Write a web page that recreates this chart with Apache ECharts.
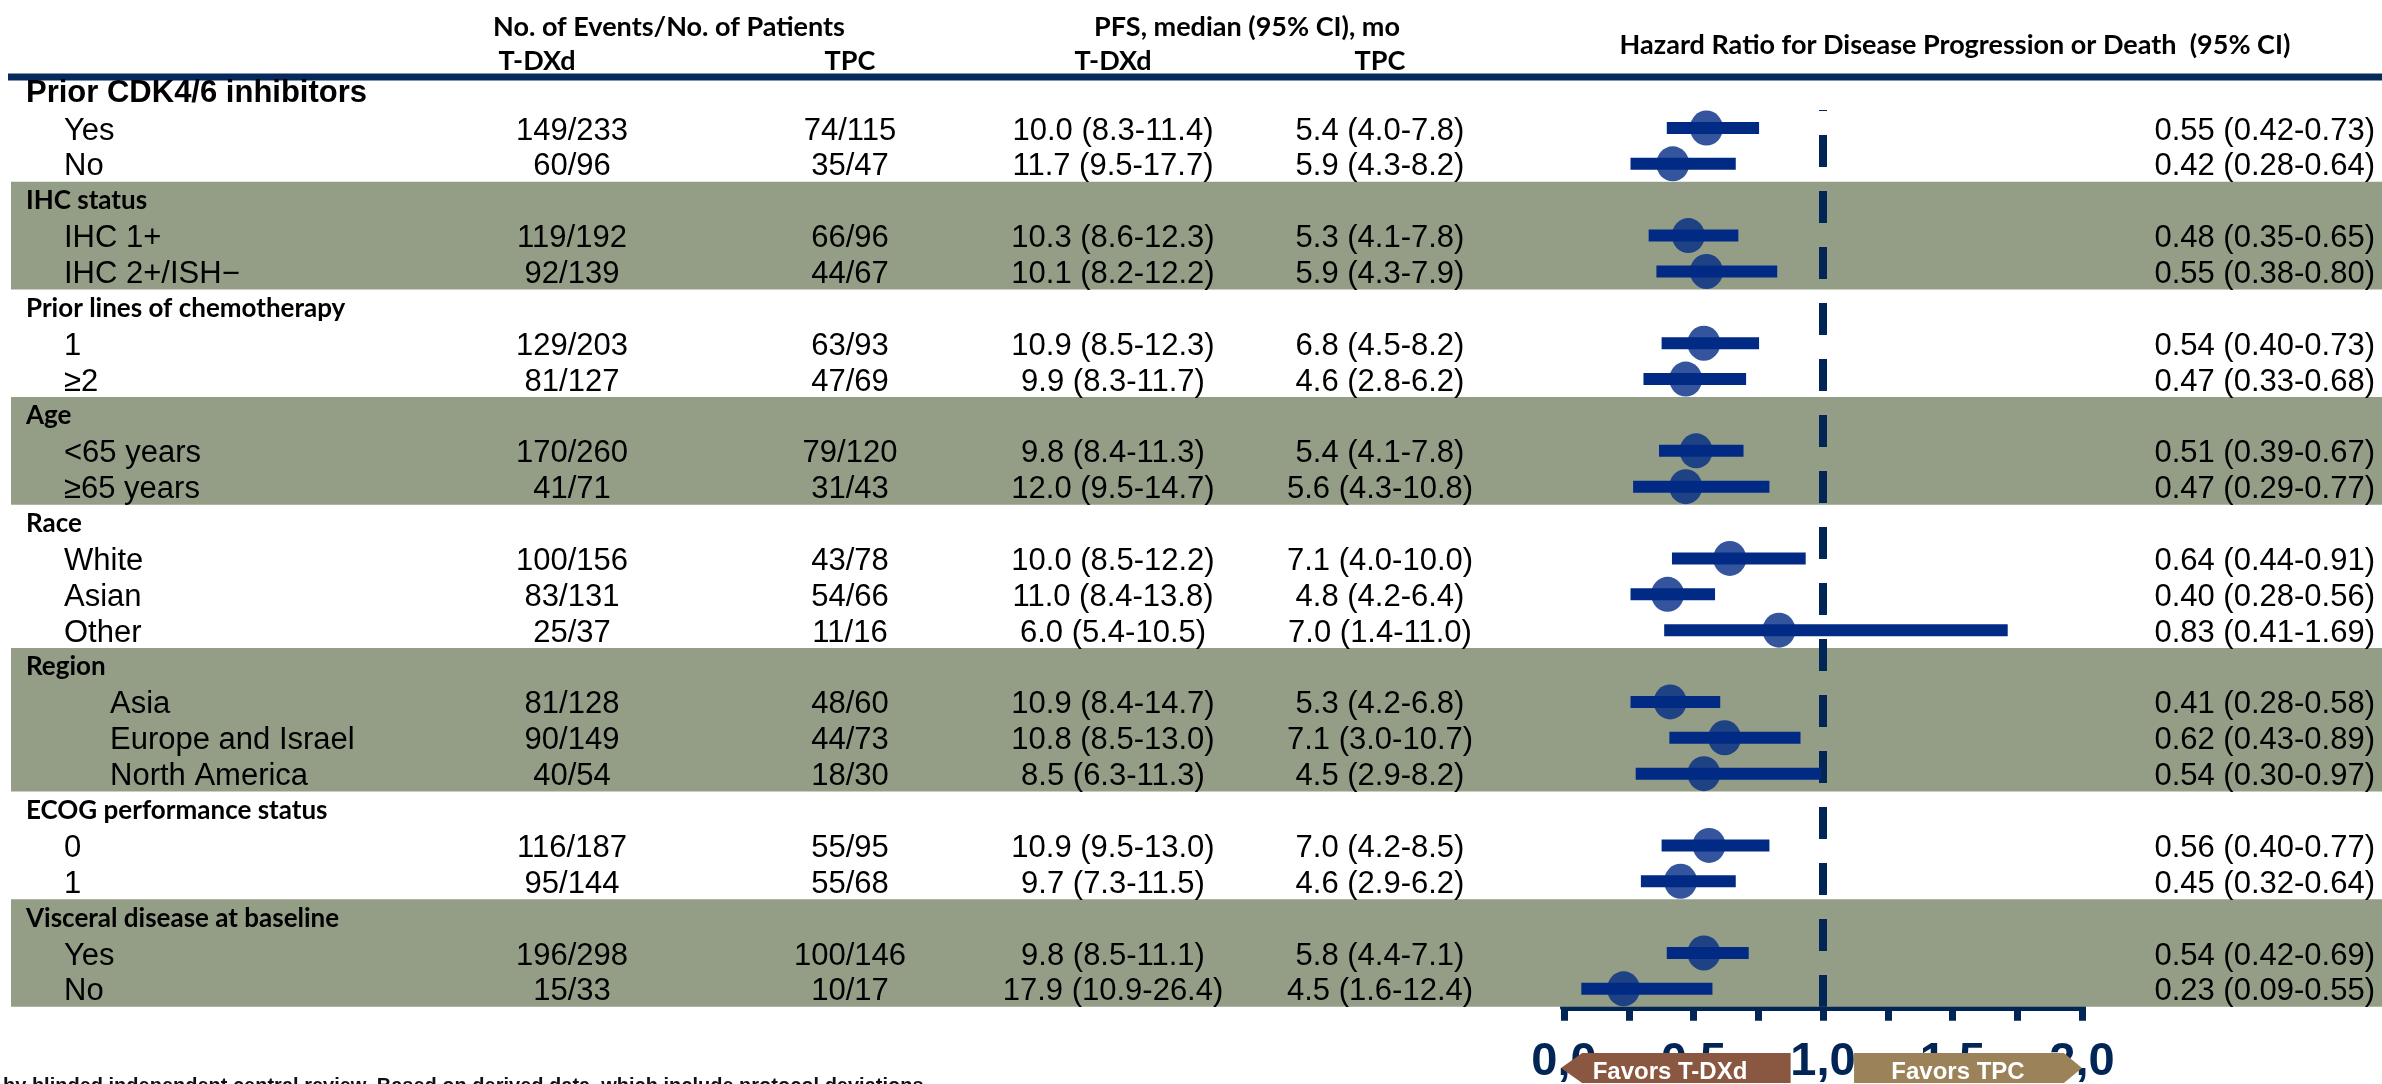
<!DOCTYPE html>
<html>
<head>
<meta charset="utf-8">
<script src="https://cdn.jsdelivr.net/npm/echarts@6/dist/echarts.min.js"></script>
<style>
  html, body { margin: 0; padding: 0; background: #ffffff; }
  #chart { width: 2382px; height: 1084px; }
</style>
</head>
<body>
<div id="chart"></div>
<script>
// ---- Subgroup analysis data ----
const groupNames = [
  'Prior CDK4/6 inhibitors',
  'IHC status',
  'Prior lines of chemotherapy',
  'Age',
  'Race',
  'Region',
  'ECOG performance status',
  'Visceral disease at baseline'
];
const groupSizes = [2, 2, 2, 2, 3, 3, 2, 2];
const shadedGroups = [1, 3, 5, 7];

const subgroupLabels = [
  'Yes', 'No',
  'IHC 1+', 'IHC 2+/ISH\u2212',
  '1', '\u22652',
  '<65 years', '\u226565 years',
  'White', 'Asian', 'Other',
  'Asia', 'Europe and Israel', 'North America',
  '0', '1',
  'Yes', 'No'
];
const eventsTDXd = [
  '149/233', '60/96', '119/192', '92/139', '129/203', '81/127', '170/260', '41/71',
  '100/156', '83/131', '25/37', '81/128', '90/149', '40/54', '116/187', '95/144',
  '196/298', '15/33'
];
const eventsTPC = [
  '74/115', '35/47', '66/96', '44/67', '63/93', '47/69', '79/120', '31/43',
  '43/78', '54/66', '11/16', '48/60', '44/73', '18/30', '55/95', '55/68',
  '100/146', '10/17'
];
const pfsTDXd = [
  '10.0 (8.3-11.4)', '11.7 (9.5-17.7)', '10.3 (8.6-12.3)', '10.1 (8.2-12.2)',
  '10.9 (8.5-12.3)', '9.9 (8.3-11.7)', '9.8 (8.4-11.3)', '12.0 (9.5-14.7)',
  '10.0 (8.5-12.2)', '11.0 (8.4-13.8)', '6.0 (5.4-10.5)', '10.9 (8.4-14.7)',
  '10.8 (8.5-13.0)', '8.5 (6.3-11.3)', '10.9 (9.5-13.0)', '9.7 (7.3-11.5)',
  '9.8 (8.5-11.1)', '17.9 (10.9-26.4)'
];
const pfsTPC = [
  '5.4 (4.0-7.8)', '5.9 (4.3-8.2)', '5.3 (4.1-7.8)', '5.9 (4.3-7.9)',
  '6.8 (4.5-8.2)', '4.6 (2.8-6.2)', '5.4 (4.1-7.8)', '5.6 (4.3-10.8)',
  '7.1 (4.0-10.0)', '4.8 (4.2-6.4)', '7.0 (1.4-11.0)', '5.3 (4.2-6.8)',
  '7.1 (3.0-10.7)', '4.5 (2.9-8.2)', '7.0 (4.2-8.5)', '4.6 (2.9-6.2)',
  '5.8 (4.4-7.1)', '4.5 (1.6-12.4)'
];
const hazardRatio = [0.55, 0.42, 0.48, 0.55, 0.54, 0.47, 0.51, 0.47, 0.64, 0.40, 0.83, 0.41, 0.62, 0.54, 0.56, 0.45, 0.54, 0.23];
const hrLower     = [0.42, 0.28, 0.35, 0.38, 0.40, 0.33, 0.39, 0.29, 0.44, 0.28, 0.41, 0.28, 0.43, 0.30, 0.40, 0.32, 0.42, 0.09];
const hrUpper     = [0.73, 0.64, 0.65, 0.80, 0.73, 0.68, 0.67, 0.77, 0.91, 0.56, 1.69, 0.58, 0.89, 0.97, 0.77, 0.64, 0.69, 0.55];

const hrTickStep = 0.25;
const hrLabelStep = 0.5;
const hrMin = 0;
const hrMax = 2;
const referenceHR = 1;

// ---- Layout / style ----
const NAVY = '#012655';
const MARK = '#012a84';
const BAND = '#949e87';
const DATA_FONT = '31px "Liberation Sans Narrow", "Arial Narrow", sans-serif';
const HEAD_FONT = 'bold 27px Lato, "Liberation Sans", sans-serif';
const GROUP_FONT = 'bold 26px Lato, "Liberation Sans", sans-serif';
const COL = { group: 26, label: 64, evT: 572, evC: 850, pfsT: 1113, pfsC: 1380, hrRight: 2375 };
// the Region subgroups sit further in
const GROUP_INDENT = { 5: 46 };

// Row index for every table line: a header line per group followed by its subgroups
const rows = [];
const groupSpans = [];
let r = 0, k = 0;
groupSizes.forEach((n, g) => {
  const start = r;
  rows.push({ kind: 'group', g: g, r: r++ });
  for (let j = 0; j < n; j++) rows.push({ kind: 'item', g: g, i: k++, r: r++ });
  groupSpans.push([start, r - 1]);
});
const itemRow = rows.filter(d => d.kind === 'item').map(d => d.r);
const nRows = r;

const fmt2 = v => v.toFixed(2);
const hrText = i => fmt2(hazardRatio[i]) + ' (' + fmt2(hrLower[i]) + '-' + fmt2(hrUpper[i]) + ')';

function txt(text, x, y, align, font, fill) {
  return {
    type: 'text', x: x, y: y,
    style: { text: text, font: font || DATA_FONT, fill: fill || '#000', align: align, verticalAlign: 'middle' }
  };
}

const chart = echarts.init(document.getElementById('chart'), null, { renderer: 'canvas' });

const option = {
  animation: false,
  backgroundColor: '#ffffff',
  grid: {
    left: 1564, top: 74.2, width: 518, height: 932.6,
    containLabel: false, outerBoundsMode: 'none'
  },
  xAxis: {
    type: 'value', min: hrMin, max: hrMax, interval: hrTickStep,
    position: 'bottom',
    splitLine: { show: false },
    axisLine: { show: true, onZero: false, lineStyle: { color: NAVY, width: 8 } },
    axisTick: { show: true, length: 14, lineStyle: { color: NAVY, width: 7 } },
    axisLabel: {
      margin: 32,
      color: NAVY,
      fontSize: 47,
      fontWeight: 'bold',
      fontFamily: '"Liberation Sans", Arial, sans-serif',
      formatter: v => {
        const q = v / hrLabelStep;
        return Math.abs(q - Math.round(q)) < 1e-6 ? v.toFixed(1).replace('.', ',') : '';
      }
    }
  },
  yAxis: {
    type: 'value', inverse: true, min: -0.5, max: nRows - 0.5, show: false
  },
  series: [
    {
      // shaded group bands spanning the full table width
      type: 'custom', name: 'bands', z: 1, silent: true, clip: false,
      data: shadedGroups.map(g => [0, groupSpans[g][0], groupSpans[g][1]]),
      renderItem: (params, api) => {
        const y1 = api.coord([0, api.value(1) - 0.5])[1];
        const y2 = api.coord([0, api.value(2) + 0.5])[1];
        return { type: 'rect', shape: { x: 11, y: y1, width: 2382 - 11, height: y2 - y1 }, style: { fill: BAND } };
      }
    },
    {
      // line of no effect
      type: 'line', name: 'reference', z: 2, silent: true, symbol: 'none',
      data: [[referenceHR, 0.5], [referenceHR, nRows - 0.5]],
      lineStyle: { color: NAVY, width: 8, type: [32, 24], dashOffset: 31 }
    },
    {
      // 95% CI bars
      type: 'custom', name: 'ci', z: 3, silent: true,
      data: hazardRatio.map((_, i) => [hrLower[i], hrUpper[i], itemRow[i]]),
      renderItem: (params, api) => {
        const p1 = api.coord([api.value(0), api.value(2)]);
        const p2 = api.coord([api.value(1), api.value(2)]);
        return {
          type: 'line',
          shape: { x1: p1[0], y1: p1[1], x2: p2[0], y2: p2[1] },
          style: { stroke: MARK, lineWidth: 12, lineCap: 'square' }
        };
      }
    },
    {
      // point estimates
      type: 'scatter', name: 'hr', z: 4, silent: true,
      symbol: 'circle', symbolSize: [33, 35],
      itemStyle: { color: MARK },
      data: hazardRatio.map((v, i) => [v, itemRow[i]])
    },
    {
      // table text for each line
      type: 'custom', name: 'table', z: 5, silent: true, clip: false,
      data: rows.map(d => [0, d.r]),
      renderItem: (params, api) => {
        const d = rows[params.dataIndex];
        const y = api.coord([0, d.r])[1];
        if (d.kind === 'group') {
          const font = d.g === 0 ? 'bold 31px "Liberation Sans", Arial, sans-serif' : GROUP_FONT;
          return txt(groupNames[d.g], COL.group, y + 1, 'left', font);
        }
        const i = d.i;
        const indent = GROUP_INDENT[d.g] || 0;
        return {
          type: 'group',
          children: [
            txt(subgroupLabels[i], COL.label + indent, y + 3, 'left'),
            txt(eventsTDXd[i], COL.evT, y + 3, 'center'),
            txt(eventsTPC[i], COL.evC, y + 3, 'center'),
            txt(pfsTDXd[i], COL.pfsT, y + 3, 'center'),
            txt(pfsTPC[i], COL.pfsC, y + 3, 'center'),
            txt(hrText(i), COL.hrRight, y + 3, 'right')
          ]
        };
      }
    }
  ]
};
chart.setOption(option);

// Header, rule, footnote and the direction arrows under the axis
const px = v => chart.convertToPixel({ xAxisIndex: 0 }, v);
const tipL = px(hrMin) - 3, bodyL1 = px(0.07), bodyL2 = px(0.875);
const bodyR1 = px(1.12), bodyR2 = px(1.93), tipR = px(hrMax);
const aTop = 1053, aBot = 1083, aMid = (aTop + aBot) / 2;
const arrowFont = 'bold 24px "Liberation Sans", Arial, sans-serif';
const head = (text, x, y) => ({ type: 'text', x: x, y: y, style: { text: text, font: HEAD_FONT, fill: '#000', align: 'center', verticalAlign: 'middle' } });

chart.setOption({
  graphic: [
    head('No. of Events/No. of Patients', 669, 27),
    head('T-DXd', 537, 61),
    head('TPC', 850, 61),
    head('PFS, median (95% CI), mo', 1247, 27),
    head('T-DXd', 1113, 61),
    head('TPC', 1380, 61),
    head('Hazard Ratio for Disease Progression or Death  (95% CI)', 1955, 45),
    { type: 'line', shape: { x1: 8, y1: 77, x2: 2382, y2: 77 }, style: { stroke: '#062a5c', lineWidth: 7 } },
    {
      type: 'polygon', z: 10,
      shape: { points: [[tipL, aMid], [bodyL1, aTop], [bodyL2, aTop], [bodyL2, aBot], [bodyL1, aBot]] },
      style: { fill: '#8a5740' }
    },
    { type: 'text', z: 11, x: 1670, y: aMid + 4, style: { text: 'Favors T-DXd', font: arrowFont, fill: '#fff', align: 'center', verticalAlign: 'middle' } },
    {
      type: 'polygon', z: 10,
      shape: { points: [[bodyR1, aTop], [bodyR2, aTop], [tipR, aMid], [bodyR2, aBot], [bodyR1, aBot]] },
      style: { fill: '#9b8258' }
    },
    { type: 'text', z: 11, x: 1958, y: aMid + 4, style: { text: 'Favors TPC', font: arrowFont, fill: '#fff', align: 'center', verticalAlign: 'middle' } },
    { type: 'text', x: 3, y: 1076, style: { text: 'by blinded independent central review. Based on derived data, which include protocol deviations.', font: 'bold 20px "Liberation Sans Narrow", "Arial Narrow", sans-serif', fill: '#111', align: 'left', verticalAlign: 'top' } }
  ]
});
</script>
</body>
</html>
